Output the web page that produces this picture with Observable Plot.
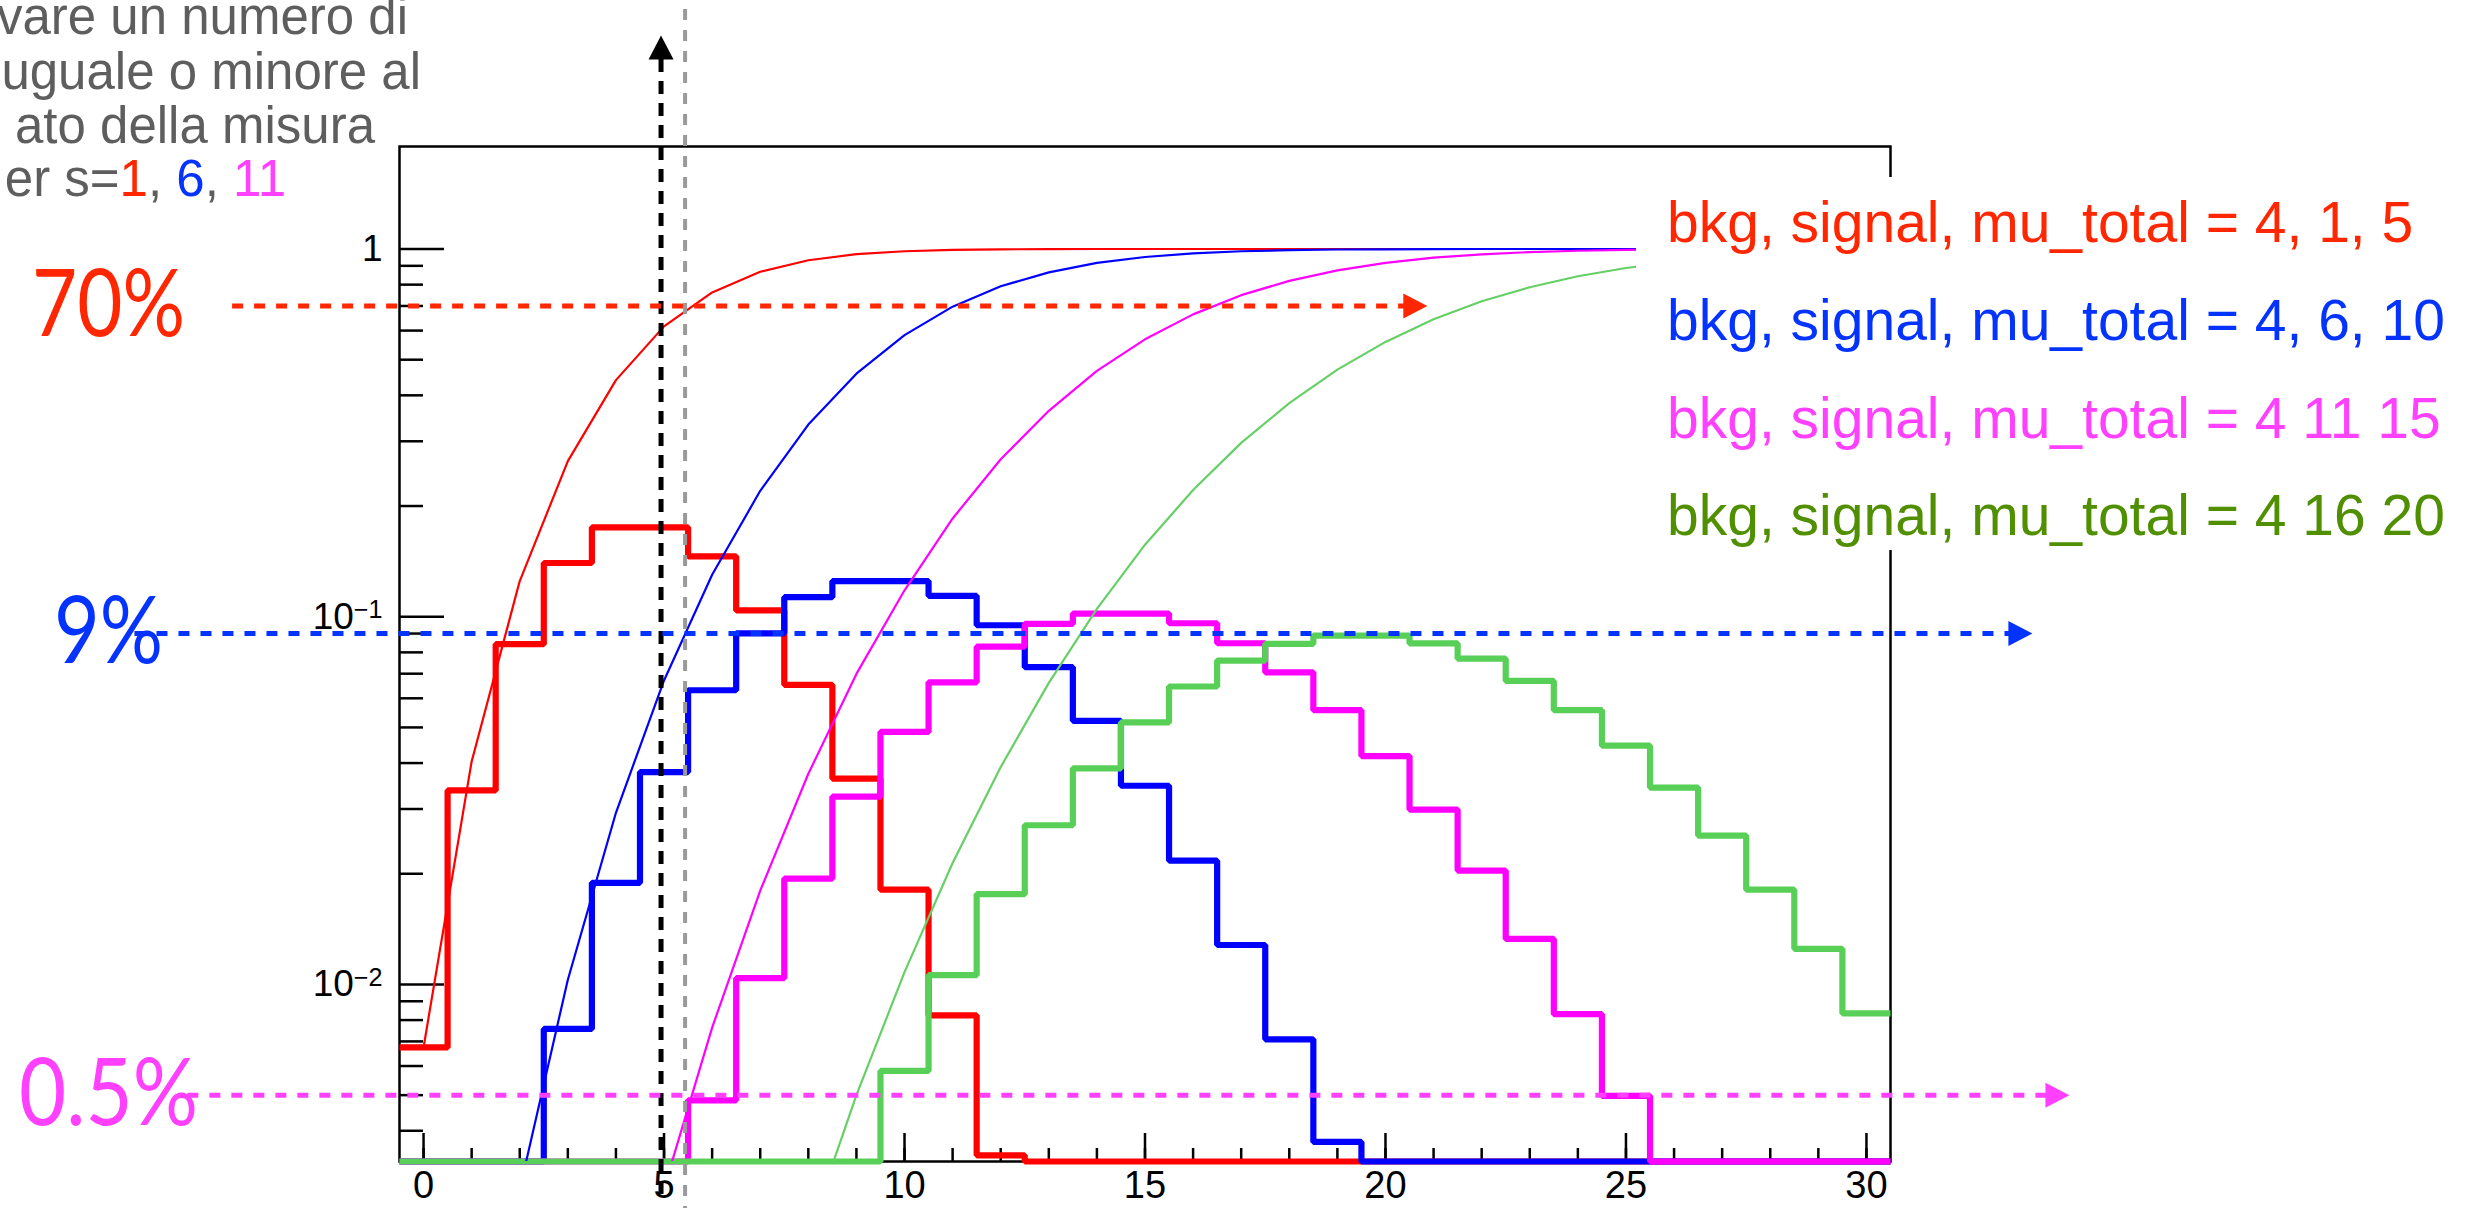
<!DOCTYPE html>
<html lang="it">
<head>
<meta charset="utf-8">
<title>Poisson: bkg + signal</title>
<script src="https://cdn.jsdelivr.net/npm/d3@7"></script>
<script src="https://cdn.jsdelivr.net/npm/@observablehq/plot@0.6"></script>
<style>
  html, body { margin: 0; padding: 0; background: #fff; }
  #page { position: relative; width: 2484px; height: 1208px; overflow: hidden; background: #fff;
          font-family: "Liberation Sans", Arial, Helvetica, sans-serif; }
  #chart { position: absolute; left: 0; top: 0; }
  #chart svg { overflow: visible; }
  #chart svg g[aria-label="x-axis tick label"] { font-size: 38px; }
  #chart svg g[aria-label="y-axis tick label"] { font-size: 37px; }
  .note { position: absolute; font-size: 51px; line-height: 51px; color: #5e5e5e; white-space: nowrap; }
  #legend { position: absolute; left: 1636px; top: 177px; width: 848px; height: 373px; background: #fff; }
  #legend div { position: absolute; left: 31px; font-size: 57px; line-height: 57px; white-space: nowrap; }
</style>
</head>
<body>
<div id="page">
  <div id="chart"></div>
  <div id="notes"></div>
  <div id="legend"></div>
</div>
<script>
// Number of observed events n: one histogram bin per integer
const counts = [0, 1, 2, 3, 4, 5, 6, 7, 8, 9, 10, 11, 12, 13, 14, 15,
                16, 17, 18, 19, 20, 21, 22, 23, 24, 25, 26, 27, 28, 29, 30];

// P(n) for mu_total = 5, 10, 15, 20
const pmf5  = [0.00674, 0.0337, 0.0842, 0.140, 0.175, 0.175, 0.146, 0.104, 0.0653, 0.0363,
               0.0181, 0.00824, 0.00343, 0.00132, 0.00047, 0.00016, 0.00005, 0.00001, 0, 0,
               0, 0, 0, 0, 0, 0, 0, 0, 0, 0, 0];
const pmf10 = [0.0000454, 0.000454, 0.00227, 0.00757, 0.0189, 0.0378, 0.0631, 0.0901, 0.113, 0.125,
               0.125, 0.114, 0.0948, 0.0729, 0.0521, 0.0347, 0.0217, 0.0128, 0.00709, 0.00373,
               0.00187, 0.00089, 0.0004, 0.00018, 0.00007, 0.00003, 0.00001, 0, 0, 0, 0];
const pmf15 = [0, 0.000005, 0.000034, 0.00017, 0.00065, 0.00194, 0.00484, 0.0104, 0.0194, 0.0324,
               0.0486, 0.0663, 0.0829, 0.0956, 0.102, 0.102, 0.0960, 0.0847, 0.0706, 0.0557,
               0.0418, 0.0299, 0.0204, 0.0133, 0.0083, 0.00498, 0.00287, 0.0016, 0.00086, 0.00044, 0.00022];
const pmf20 = [0, 0, 0, 0.000003, 0.000014, 0.000055, 0.00018, 0.00052, 0.00131, 0.00291,
               0.00582, 0.0106, 0.0176, 0.0271, 0.0387, 0.0516, 0.0646, 0.0760, 0.0844, 0.0888,
               0.0888, 0.0846, 0.0769, 0.0669, 0.0557, 0.0446, 0.0343, 0.0254, 0.0181, 0.0125, 0.00834];

// P(N <= n) for the same four means
const cdf5  = [0.00674, 0.0404, 0.125, 0.265, 0.440, 0.616, 0.762, 0.867, 0.932, 0.968,
               0.986, 0.995, 0.998, 0.999, 1, 1, 1, 1, 1, 1, 1, 1, 1, 1, 1, 1, 1, 1, 1, 1, 1];
const cdf10 = [0.0000454, 0.0005, 0.00277, 0.0103, 0.0293, 0.0671, 0.130, 0.220, 0.333, 0.458,
               0.583, 0.697, 0.792, 0.864, 0.917, 0.951, 0.973, 0.986, 0.993, 0.997,
               0.998, 0.999, 1, 1, 1, 1, 1, 1, 1, 1, 1];
const cdf15 = [0.0000003, 0.0000049, 0.000039, 0.00021, 0.00086, 0.00279, 0.00763, 0.0180, 0.0374, 0.0699,
               0.118, 0.185, 0.268, 0.363, 0.466, 0.568, 0.664, 0.749, 0.819, 0.875,
               0.917, 0.947, 0.967, 0.981, 0.989, 0.994, 0.997, 0.998, 0.999, 1, 1];
const cdf20 = [0.000000002, 0.00000004, 0.00000046, 0.0000032, 0.000017, 0.000072, 0.00026, 0.00078, 0.00209, 0.00500,
               0.0108, 0.0214, 0.0390, 0.0661, 0.105, 0.157, 0.221, 0.297, 0.381, 0.470,
               0.559, 0.644, 0.721, 0.787, 0.843, 0.888, 0.922, 0.948, 0.966, 0.978, 0.987];

const seriesNames = [
  "bkg, signal, mu_total = 4, 1, 5",
  "bkg, signal, mu_total = 4, 6, 10",
  "bkg, signal, mu_total = 4 11 15",
  "bkg, signal, mu_total = 4 16 20"
];

// Axis ticks and labels
const xMajorTicks = [0, 5, 10, 15, 20, 25, 30];
const yMajorTicks = [0.01, 0.1, 1];
const yMajorLabels = ["10⁻²", "10⁻¹", "1"];
const yMinorTicks = [0.004, 0.005, 0.006, 0.007, 0.008, 0.009,
                     0.02, 0.03, 0.04, 0.05, 0.06, 0.07, 0.08, 0.09,
                     0.2, 0.3, 0.4, 0.5, 0.6, 0.7, 0.8, 0.9];

// Probability levels picked out by the dashed arrows
const levelValues = [0.7, 0.09, 0.005];
const levelLabels = ["70%", "9%", "0.5%"];

// Observed count and the bin edge just above it
const observedN = 5;
const binEdge = 5.5;

// Slide text beside the plot
const noteLines = ["vare un numero di", "uguale o minore al", "ato della misura"];
const noteLastLine = ["er s=", "1", ", ", "6", ", ", "11"];

// ---- styling ----
const histColors = ["#ff0000", "#0000ff", "#ff00ff", "#58d058"];
const curveColors = ["#ff0000", "#0000ff", "#ff00ff", "#66cf66"];
const textColors = ["#ff2600", "#0433ff", "#ff40ff", "#4f8f00"];
const grey = "#5e5e5e";
const yMin = 0.0033, yMax = 1.9;

const pmfs = [pmf5, pmf10, pmf15, pmf20];
const cdfs = [cdf5, cdf10, cdf15, cdf20];

// histogram outline: one point per lower bin edge, plus the closing upper edge
function binOutline(p) {
  const pts = counts.map((n, i) => ({x: n - 0.5, p: p[i]}));
  pts.push({x: counts[counts.length - 1] + 0.5, p: p[p.length - 1]});
  return pts;
}

// filled arrow head, base centred on the anchor point, tip pointing up
const arrowHead = {
  draw(ctx) { ctx.moveTo(0, -24); ctx.lineTo(12.5, 0); ctx.lineTo(-12.5, 0); ctx.closePath(); }
};

const arrowSpans = [[-3.97, 20.87], [-6.0, 33.45], [-4.9, 34.22]];
const labelWidths = [153, 109, 179];

const marks = [
  Plot.frame({stroke: "#000", strokeWidth: 2.5}),
  // ticks drawn inside the frame, ROOT style
  Plot.axisX({ticks: counts, tickSize: -13, stroke: "#000", strokeWidth: 2.5, fill: "none", tickFormat: () => "", label: null}),
  Plot.axisX({ticks: xMajorTicks, tickSize: -28, stroke: "#000", strokeWidth: 2.5, fill: "none", tickFormat: () => "", label: null}),
  Plot.axisX({ticks: xMajorTicks, tickSize: 0, tickPadding: 10, fill: "#000", label: null}),
  Plot.axisY({ticks: yMinorTicks, tickSize: -24, stroke: "#000", strokeWidth: 2.5, fill: "none", tickFormat: () => "", label: null}),
  Plot.axisY({ticks: yMajorTicks, tickSize: -45, stroke: "#000", strokeWidth: 2.5, fill: "none", tickFormat: () => "", label: null}),
  Plot.axisY({ticks: yMajorTicks, tickSize: 0, tickPadding: 17, fill: "#000", label: null,
              tickFormat: d => yMajorLabels[yMajorTicks.indexOf(d)]}),
  // histograms: bins below the axis range sit on the frame bottom
  ...pmfs.map((p, i) => Plot.line(binOutline(p), {
    x: "x", y: d => Math.max(d.p, yMin), curve: "step-after",
    stroke: histColors[i], strokeWidth: 6.2, strokeLinejoin: "miter", strokeLinecap: "butt"
  })),
  // cumulative curves
  ...cdfs.map((c, i) => Plot.line(counts, {
    x: d => d, y: (d, j) => c[j], stroke: curveColors[i], strokeWidth: 2.2, clip: true
  }))
];

// dashed guides
marks.push(
  Plot.ruleX([binEdge], {dx: -3, stroke: "#9a9a9a", strokeWidth: 4, strokeDasharray: "11,10", insetTop: -137, insetBottom: -47}),
  Plot.ruleX([observedN], {dx: -3, stroke: "#000", strokeWidth: 5, strokeDasharray: "13,9", insetTop: -87, insetBottom: -38}),
  Plot.dot([observedN], {x: d => d, frameAnchor: "top", dx: -3, dy: -87, symbol: arrowHead, fill: "#000", stroke: "none"})
);
levelValues.forEach((v, i) => {
  const [from, to] = arrowSpans[i];
  marks.push(
    Plot.ruleY([v], {x1: from, x2: to, insetRight: 22, stroke: textColors[i], strokeWidth: 5, strokeDasharray: "11,11"}),
    Plot.dot([v], {x: to, y: d => d, dx: -24, rotate: 90, symbol: arrowHead, fill: textColors[i], stroke: "none"}),
    Plot.text([levelLabels[i]], {
      y: v, text: d => d, frameAnchor: "left", dx: -291, textAnchor: "middle",
      fill: textColors[i], fontSize: 93, fontFamily: "Lato, 'Liberation Sans', sans-serif",
      className: "level-label-" + i
    })
  );
});

const chart = Plot.plot({
  width: 2484, height: 1208,
  marginLeft: 399, marginRight: 594, marginTop: 146, marginBottom: 47,
  style: {fontFamily: "'Liberation Sans', Arial, sans-serif", fontSize: "35px", background: "transparent", color: "#000"},
  x: {domain: [-0.5, 30.5], label: null},
  y: {type: "log", domain: [yMin, yMax], label: null},
  marks
});
document.getElementById("chart").appendChild(chart);

// condensed percentage labels
levelLabels.forEach((t, i) => {
  d3.select(chart).selectAll(".level-label-" + i + " text")
    .attr("textLength", labelWidths[i]).attr("lengthAdjust", "spacingAndGlyphs");
});

// ROOT-style exponents on the log axis labels
const supers = {"⁻": "−", "¹": "1", "²": "2"};
d3.select(chart).selectAll('g[aria-label="y-axis tick label"] text').each(function () {
  const s = this.textContent;
  const k = s.indexOf("⁻");
  if (k < 0) return;
  const base = s.slice(0, k), exp = Array.from(s.slice(k)).map(c => supers[c] || c).join("");
  const t = d3.select(this);
  t.text(base);
  t.append("tspan").attr("dy", "-0.42em").attr("font-size", "0.68em").text(exp);
});

// slide notes, right-aligned so the clipped left edge falls off the page
const noteBaselines = [34, 89, 143, 196];
const noteRightEdges = [408, 421, 375, 286];
const notes = document.getElementById("notes");
function addNote(i) {
  const div = document.createElement("div");
  div.className = "note";
  div.style.right = (2484 - noteRightEdges[i]) + "px";
  div.style.top = (noteBaselines[i] - 0.8465 * 51) + "px";
  notes.appendChild(div);
  return div;
}
noteLines.forEach((t, i) => { addNote(i).textContent = t; });
const last = addNote(3);
const partColors = [grey, textColors[0], grey, textColors[1], grey, textColors[2]];
noteLastLine.forEach((t, j) => {
  const s = document.createElement("span");
  s.textContent = t;
  s.style.color = partColors[j];
  last.appendChild(s);
});

// legend box (white, laid over the frame's right edge)
const legendBaselines = [65, 163, 261, 358];
const legend = document.getElementById("legend");
seriesNames.forEach((name, i) => {
  const div = document.createElement("div");
  div.textContent = name;
  div.style.color = textColors[i];
  div.style.top = (legendBaselines[i] - 0.8465 * 57) + "px";
  legend.appendChild(div);
});
</script>
</body>
</html>
